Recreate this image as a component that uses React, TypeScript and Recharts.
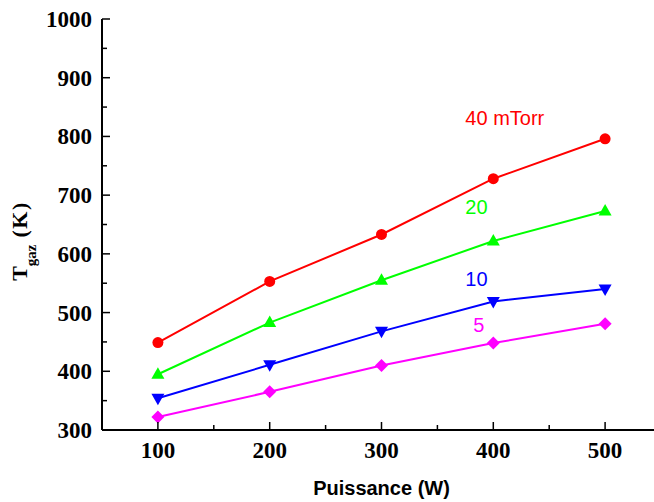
import { LineChart, Line, XAxis, YAxis, ReferenceDot } from 'recharts';

const powers = [100, 200, 300, 400, 500];
const t40 = [449, 553, 633, 728, 796];
const t20 = [395, 483, 555, 622, 673];
const t10 = [354, 411, 468, 519, 540];
const t5 = [322, 365, 410, 448, 481];

const xTicks = [100, 150, 200, 250, 300, 350, 400, 450, 500];
const yTicks = [300, 350, 400, 450, 500, 550, 600, 650, 700, 750, 800, 850, 900, 950, 1000];

// curve labels, in data coordinates
const notes = [
  { x: 375, y: 820, text: '40 mTorr', color: '#ff0000' },
  { x: 375, y: 668, text: '20', color: '#00ff00' },
  { x: 375, y: 545, text: '10', color: '#0000ff' },
  { x: 382, y: 467, text: '5', color: '#ff00ff' },
];

const data = powers.map((p, i) => ({ p, t40: t40[i], t20: t20[i], t10: t10[i], t5: t5[i] }));

const SERIF = '"Liberation Serif", "Times New Roman", serif';
const SANS = '"Liberation Sans", Arial, sans-serif';

function tickLen(v: number, step: number) {
  return v % step === 0 ? 8 : 5;
}

function BottomTick({ x, y, payload }: any) {
  const v = payload.value;
  return (
    <g>
      <line x1={x} x2={x} y1={y} y2={y - tickLen(v, 100)} stroke="#000" strokeWidth={1.5} />
      {v % 100 === 0 && (
        <text x={x} y={y + 28} textAnchor="middle" fontFamily={SERIF} fontWeight="bold" fontSize={23} fill="#000">
          {v}
        </text>
      )}
    </g>
  );
}

function TopTick({ x, y, payload }: any) {
  return <line x1={x} x2={x} y1={y} y2={y + tickLen(payload.value, 100)} stroke="#000" strokeWidth={1.5} />;
}

function LeftTick({ x, y, payload }: any) {
  const v = payload.value;
  return (
    <g>
      <line x1={x} x2={x + tickLen(v, 100)} y1={y} y2={y} stroke="#000" strokeWidth={1.5} />
      {v % 100 === 0 && (
        <text x={x - 10} y={y + 8} textAnchor="end" fontFamily={SERIF} fontWeight="bold" fontSize={23} fill="#000">
          {v}
        </text>
      )}
    </g>
  );
}

function RightTick({ x, y, payload }: any) {
  return <line x1={x} x2={x - tickLen(payload.value, 100)} y1={y} y2={y} stroke="#000" strokeWidth={1.5} />;
}

function marker(shape: string, color: string) {
  return (props: any) => {
    const { cx, cy, index } = props;
    if (cx == null || cy == null) return <g key={index} />;
    if (shape === 'circle') return <circle key={index} cx={cx} cy={cy} r={5.5} fill={color} />;
    let pts = '';
    if (shape === 'up') pts = `${cx},${cy - 7} ${cx + 6.5},${cy + 4.5} ${cx - 6.5},${cy + 4.5}`;
    if (shape === 'down') pts = `${cx},${cy + 7} ${cx + 6.5},${cy - 4.5} ${cx - 6.5},${cy - 4.5}`;
    if (shape === 'diamond') pts = `${cx},${cy - 6.5} ${cx + 6.5},${cy} ${cx},${cy + 6.5} ${cx - 6.5},${cy}`;
    return <polygon key={index} points={pts} fill={color} />;
  };
}

const series = [
  { key: 't40', color: '#ff0000', shape: 'circle' },
  { key: 't20', color: '#00ff00', shape: 'up' },
  { key: 't10', color: '#0000ff', shape: 'down' },
  { key: 't5', color: '#ff00ff', shape: 'diamond' },
];

const axisLine = { stroke: '#000', strokeWidth: 2 };

export default function App() {
  return (
    <div style={{ position: 'absolute', left: 0, top: 0, width: 654, height: 502, overflow: 'hidden', background: '#fff' }}>
      <LineChart width={670} height={502} data={data} margin={{ top: 19, right: 9, bottom: 0, left: 0 }}>
        <XAxis
          dataKey="p"
          type="number"
          domain={[50, 550]}
          ticks={xTicks}
          interval={0}
          height={72}
          tickSize={0}
          tickMargin={0}
          tickLine={false}
          axisLine={axisLine}
          tick={<BottomTick />}
          label={{
            content: (props: any) => {
              const vb = props.viewBox;
              return (
                <text x={vb.x + vb.width / 2} y={vb.y + 65} textAnchor="middle" fontFamily={SANS} fontWeight="bold" fontSize={20} fill="#000">
                  Puissance (W)
                </text>
              );
            },
          }}
        />
        <XAxis
          xAxisId="top"
          orientation="top"
          type="number"
          domain={[50, 550]}
          allowDataOverflow
          ticks={xTicks}
          interval={0}
          height={0}
          tickSize={0}
          tickMargin={0}
          tickLine={false}
          axisLine={axisLine}
          tick={<TopTick />}
        />
        <YAxis
          type="number"
          domain={[300, 1000]}
          ticks={yTicks}
          interval={0}
          width={102}
          tickSize={0}
          tickMargin={0}
          tickLine={false}
          axisLine={axisLine}
          tick={<LeftTick />}
          label={{
            content: (props: any) => {
              const vb = props.viewBox;
              const cy = vb.y + 222;
              return (
                <text x={27} y={cy} transform={`rotate(-90, 27, ${cy})`} textAnchor="middle" fontFamily={SERIF} fontWeight="bold" fontSize={22} fill="#000">
                  <tspan>T</tspan>
                  <tspan dy={9} fontSize={15}>gaz</tspan>
                  <tspan dy={-9} letterSpacing={1.5}> (K)</tspan>
                </text>
              );
            },
          }}
        />
        <YAxis
          yAxisId="right"
          orientation="right"
          type="number"
          domain={[300, 1000]}
          allowDataOverflow
          ticks={yTicks}
          interval={0}
          width={0}
          tickSize={0}
          tickMargin={0}
          tickLine={false}
          axisLine={axisLine}
          tick={<RightTick />}
        />
        {series.map((s) => (
          <Line
            key={s.key}
            dataKey={s.key}
            stroke={s.color}
            strokeWidth={2}
            dot={marker(s.shape, s.color)}
            activeDot={false}
            isAnimationActive={false}
          />
        ))}
        {notes.map((n) => (
          <ReferenceDot
            key={n.text}
            x={n.x}
            y={n.y}
            r={0}
            fill="none"
            stroke="none"
            label={{
              content: (props: any) => (
                <text x={props.viewBox.x} y={props.viewBox.y} fontFamily={SANS} fontSize={20} fill={n.color}>
                  {n.text}
                </text>
              ),
            }}
          />
        ))}
      </LineChart>
    </div>
  );
}
